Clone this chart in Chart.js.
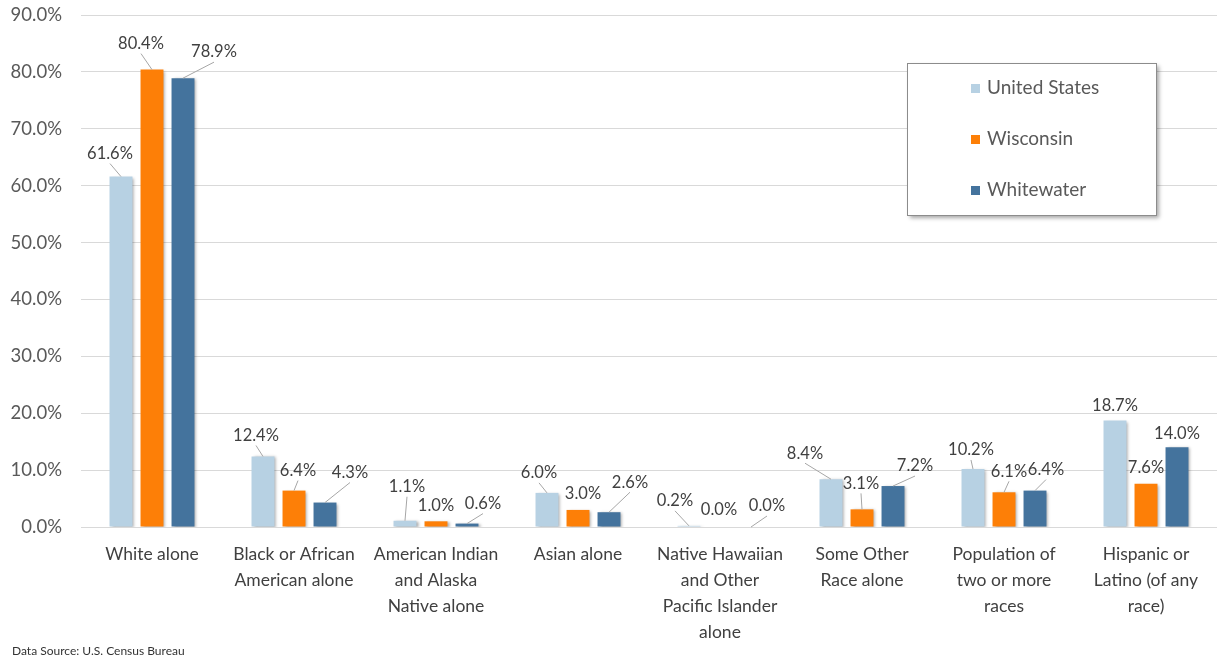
<!DOCTYPE html>
<html>
<head>
<meta charset="utf-8">
<script src="https://cdn.jsdelivr.net/npm/chart.js@4.4.0/dist/chart.umd.min.js"></script>
<style>
  html, body { margin: 0; padding: 0; background: #fff; }
  #wrap { width: 1217px; height: 657px; position: relative; }
</style>
</head>
<body>
<div id="wrap"><canvas id="chart"></canvas></div>
<script>
// categories (multi-line labels)
const categories = [
  ['White alone'],
  ['Black or African', 'American alone'],
  ['American Indian', 'and Alaska', 'Native alone'],
  ['Asian alone'],
  ['Native Hawaiian', 'and Other', 'Pacific Islander', 'alone'],
  ['Some Other', 'Race alone'],
  ['Population of', 'two or more', 'races'],
  ['Hispanic or', 'Latino (of any', 'race)']
];

const seriesNames = ['United States', 'Wisconsin', 'Whitewater'];
const unitedStates = [61.6, 12.4, 1.1, 6.0, 0.2, 8.4, 10.2, 18.7];
const wisconsin    = [80.4, 6.4, 1.0, 3.0, 0.0, 3.1, 6.1, 7.6];
const whitewater   = [78.9, 4.3, 0.6, 2.6, 0.0, 7.2, 6.4, 14.0];

const colors = ['#b7d1e3', '#fd7f07', '#44739d'];

// label nudges (dx, dy from bar top centre), like hand-moved labels
const labelNudge = [
  [[-11, -23], [-7, -21], [2, -34], [-8, -20], [-14, -25], [-26, -26], [-2, -19], [0, -15]],
  [[-11, -26], [4, -20], [0, -16], [5, -16], [-1, -17], [-1, -26], [5, -21], [0, -16]],
  [[31, -26], [25, -30], [16, -20], [21, -30], [16, -21], [22, -20], [11, -21], [0, -14]]
];

const FONT = 'Lato, "Open Sans", sans-serif';

// bar shadows
const barShadow = {
  id: 'barShadow',
  beforeDatasetsDraw(chart) {
    const ctx = chart.ctx;
    ctx.save();
    ctx.shadowColor = 'rgba(0,0,0,0.35)';
    ctx.shadowBlur = 3;
    ctx.shadowOffsetX = 2;
    ctx.shadowOffsetY = 1;
  },
  afterDatasetsDraw(chart) {
    chart.ctx.restore();
  }
};

// value labels with leader lines
const valueLabels = {
  id: 'valueLabels',
  afterDatasetsDraw(chart) {
    const ctx = chart.ctx;
    ctx.save();
    ctx.font = '16.5px ' + FONT;
    ctx.textAlign = 'center';
    ctx.textBaseline = 'middle';
    chart.data.datasets.forEach((ds, di) => {
      const meta = chart.getDatasetMeta(di);
      meta.data.forEach((bar, i) => {
        const [dx, dy] = labelNudge[di][i];
        const x = bar.x + dx, y = bar.y + dy;
        if (Math.abs(dy) >= 18 || Math.abs(dx) > 10) {
          ctx.strokeStyle = '#a6a6a6';
          ctx.lineWidth = 1;
          ctx.beginPath();
          ctx.moveTo(x, y + 10);
          ctx.lineTo(bar.x, bar.y);
          ctx.stroke();
        }
        ctx.fillStyle = '#404040';
        ctx.fillText(ds.data[i].toFixed(1) + '%', x, y);
      });
    });
    ctx.restore();
  }
};

// boxed legend and source note
const boxLegend = {
  id: 'boxLegend',
  afterDraw(chart) {
    const ctx = chart.ctx;
    ctx.save();
    const bx = 907, by = 63, bw = 249, bh = 152;
    ctx.shadowColor = 'rgba(0,0,0,0.35)';
    ctx.shadowBlur = 4;
    ctx.shadowOffsetX = 3;
    ctx.shadowOffsetY = 3;
    ctx.fillStyle = '#fff';
    ctx.fillRect(bx, by, bw, bh);
    ctx.shadowColor = 'transparent';
    ctx.strokeStyle = '#8c8c8c';
    ctx.lineWidth = 1;
    ctx.strokeRect(bx + 0.5, by + 0.5, bw, bh);
    ctx.font = '19px ' + FONT;
    ctx.textBaseline = 'middle';
    ctx.textAlign = 'left';
    seriesNames.forEach((name, i) => {
      const y = 88 + i * 51;
      ctx.fillStyle = colors[i];
      ctx.fillRect(971, y - 4, 9, 9);
      ctx.fillStyle = '#595959';
      ctx.fillText(name, 987, y);
    });
    ctx.font = '12px ' + FONT;
    ctx.fillStyle = '#333';
    ctx.fillText('Data Source: U.S. Census Bureau', 12, 651);
    ctx.restore();
  }
};

new Chart(document.getElementById('chart'), {
  type: 'bar',
  data: {
    labels: categories,
    datasets: seriesNames.map((name, i) => ({
      label: name,
      data: [unitedStates, wisconsin, whitewater][i],
      backgroundColor: colors[i],
      borderWidth: 0,
      barPercentage: 0.74,
      categoryPercentage: 0.655
    }))
  },
  options: {
    responsive: true,
    maintainAspectRatio: false,
    animation: false,
    layout: { padding: { top: 15, right: 0, bottom: 0, left: 0 } },
    plugins: {
      legend: { display: false },
      tooltip: { enabled: false }
    },
    scales: {
      x: {
        grid: { display: false, drawTicks: false },
        border: { color: '#d9d9d9' },
        ticks: {
          color: '#404040',
          font: { family: FONT, size: 17.5, lineHeight: 1.49 },
          padding: 14,
          maxRotation: 0,
          autoSkip: false
        },
        afterFit(scale) {
          scale.height = 130;
          scale.paddingTop = 0;
        }
      },
      y: {
        min: 0,
        max: 90,
        grid: { color: '#d9d9d9', drawTicks: false },
        border: { display: false },
        ticks: {
          stepSize: 10,
          color: '#595959',
          padding: 19,
          font: { family: FONT, size: 18.5 },
          callback: v => v.toFixed(1) + '%'
        },
        afterFit(scale) {
          scale.width = 81;
          scale.paddingTop = 0;
          scale.paddingBottom = 0;
        }
      }
    }
  },
  plugins: [barShadow, valueLabels, boxLegend]
});
</script>
</body>
</html>
